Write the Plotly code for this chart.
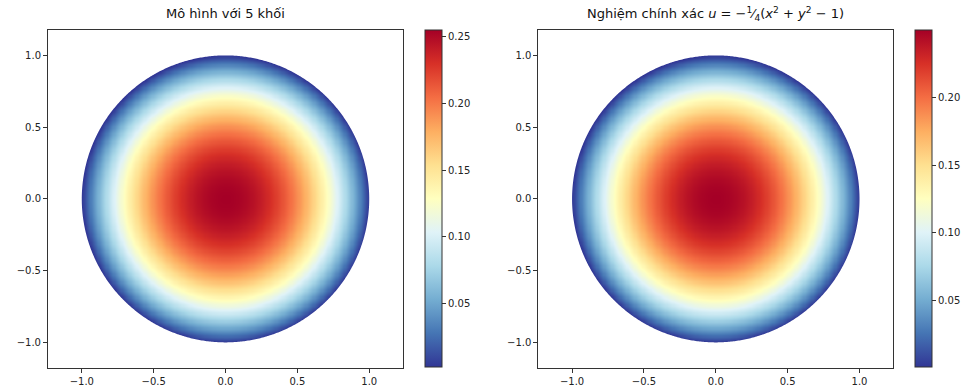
import numpy as np
import plotly.graph_objects as go

# ---- data ----
# exact solution stated in the right title: u = -1/4 (x^2 + y^2 - 1) on the unit disk
exact_coef = -0.25
exact_shift = -1.0
disk_radius = 1.0
# model ("5 khối") colour range
model_min = 0.002
model_max = 0.2548
exact_min = 0.0
exact_max = 0.25
cbar_ticks_left = [0.05, 0.10, 0.15, 0.20, 0.25]
cbar_ticks_right = [0.05, 0.10, 0.15, 0.20]
axis_ticks = [-1.0, -0.5, 0.0, 0.5, 1.0]
title_left = "Mô hình với 5 khối"
title_right = ("Nghiệm chính xác <i>u</i> = −<sup>1</sup>⁄<sub>4</sub>"
               "(<i>x</i><sup>2</sup> + <i>y</i><sup>2</sup> − 1)")

n = 261
xs = np.linspace(-1.04, 1.04, n)
ys = np.linspace(-1.04, 1.04, n)
X, Y = np.meshgrid(xs, ys)
R2 = X**2 + Y**2
u_exact = exact_coef * (R2 + exact_shift)
u_model = model_min + (model_max - model_min) * (u_exact / 0.25)

W, H = 968, 392
def px(v):
    return v / W
def py(v):
    return (H - v) / H

ax_top, ax_bot = 30.3, 367.5
left_ax = (48, 403)
right_ax = (538.3, 893.3)
left_cb = 425
right_cb = 915

fig = go.Figure()

def cbar(xpix, ticks):
    return dict(
        x=px(xpix), xanchor="left", y=py((ax_top + ax_bot) / 2), yanchor="middle",
        len=(ax_bot - ax_top) / H, lenmode="fraction", thickness=17, thicknessmode="pixels",
        xpad=0, ypad=0, outlinewidth=1, outlinecolor="#333",
        ticks="outside", ticklen=4, tickcolor="#333", tickwidth=1,
        tickvals=ticks, tickformat=".2f",
        tickfont=dict(family="DejaVu Sans", size=10, color="#222"),
    )

fig.add_trace(go.Heatmap(
    x=xs, y=ys, z=u_model, colorscale="RdYlBu_r", zmin=model_min, zmax=model_max,
    xaxis="x", yaxis="y", colorbar=cbar(left_cb, cbar_ticks_left), zsmooth="best",
))
fig.add_trace(go.Heatmap(
    x=xs, y=ys, z=u_exact, colorscale="RdYlBu_r", zmin=exact_min, zmax=exact_max,
    xaxis="x2", yaxis="y2", colorbar=cbar(right_cb, cbar_ticks_right), zsmooth="best",
))

# white mask outside the unit disk (square minus circle, even-odd fill)
theta = np.linspace(0, 2 * np.pi, 721)
cx = disk_radius * np.cos(theta)
cy = disk_radius * np.sin(theta)
s = 1.08
mask_path = f"M {-s},{-s} L {s},{-s} L {s},{s} L {-s},{s} Z M " + " L ".join(
    f"{a:.5f},{b:.5f}" for a, b in zip(cx, cy)) + " Z"

axstyle = dict(
    showline=True, linecolor="#333", linewidth=1, mirror=True,
    ticks="outside", ticklen=4, tickcolor="#333", tickwidth=1,
    showgrid=False, zeroline=False,
    tickvals=axis_ticks, tickformat=".1f",
    tickfont=dict(family="DejaVu Sans", size=10, color="#222"),
)

xr = [-1.235, 1.235]
yr = [-1.175, 1.175]

fig.update_layout(
    width=W, height=H, margin=dict(l=0, r=0, t=0, b=0),
    paper_bgcolor="white", plot_bgcolor="white",
    xaxis=dict(domain=[px(left_ax[0]), px(left_ax[1])], range=xr, anchor="y", **axstyle),
    yaxis=dict(domain=[py(ax_bot), py(ax_top)], range=yr, anchor="x", **axstyle),
    xaxis2=dict(domain=[px(right_ax[0]), px(right_ax[1])], range=xr, anchor="y2", **axstyle),
    yaxis2=dict(domain=[py(ax_bot), py(ax_top)], range=yr, anchor="x2", **axstyle),
    showlegend=False,
    shapes=[
        dict(type="path", path=mask_path, xref="x", yref="y", fillcolor="white",
             fillrule="evenodd", line=dict(width=0), layer="above"),
        dict(type="path", path=mask_path, xref="x2", yref="y2", fillcolor="white",
             fillrule="evenodd", line=dict(width=0), layer="above"),
    ],
    annotations=[
        dict(text=title_left, x=px(sum(left_ax) / 2), y=py(14), xref="paper", yref="paper",
             xanchor="center", yanchor="middle", showarrow=False,
             font=dict(family="DejaVu Sans", size=13, color="#111")),
        dict(text=title_right, x=px(sum(right_ax) / 2), y=py(14), xref="paper", yref="paper",
             xanchor="center", yanchor="middle", showarrow=False,
             font=dict(family="DejaVu Sans", size=13, color="#111")),
    ],
)

fig.write_html("out.html")
